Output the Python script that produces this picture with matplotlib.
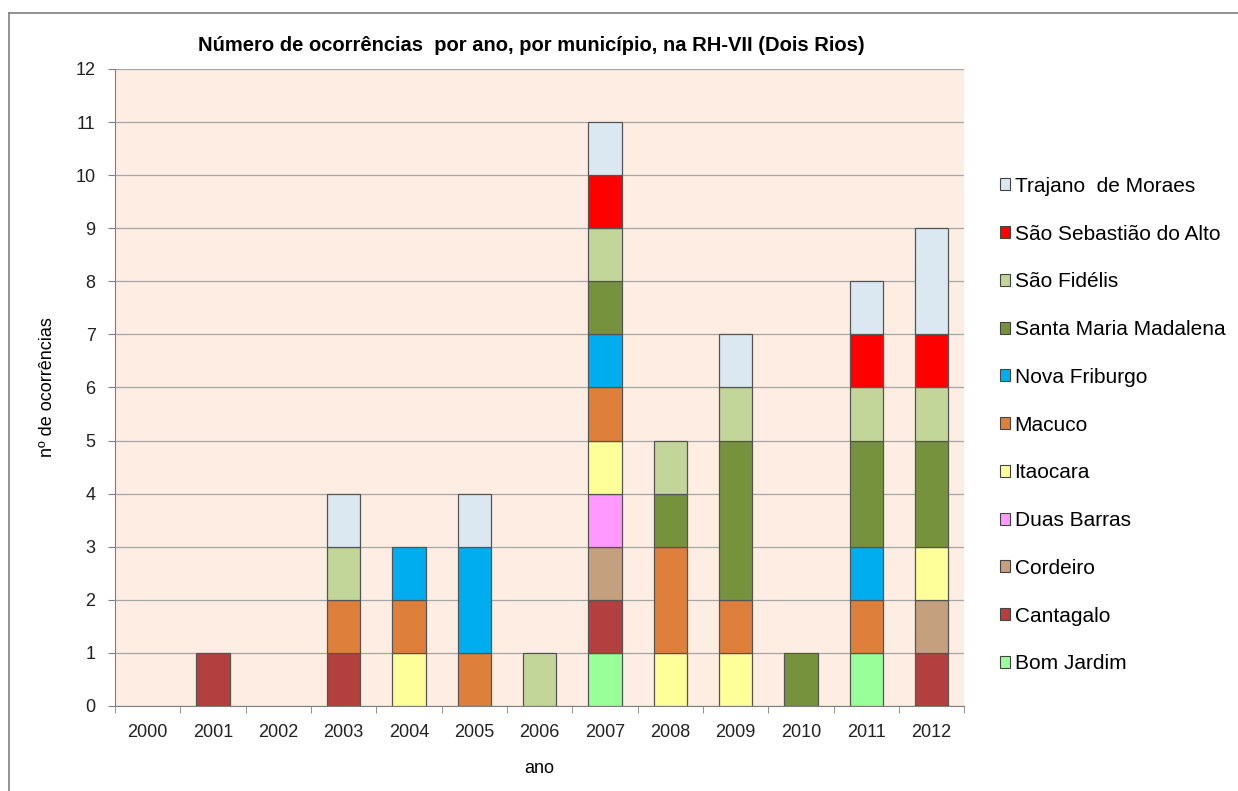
import numpy as np
import matplotlib
matplotlib.use('Agg')
import matplotlib.pyplot as plt
from matplotlib.patches import Patch
from matplotlib.lines import Line2D

plt.rcParams['font.family'] = ['Liberation Sans', 'DejaVu Sans']

anos = ['2000', '2001', '2002', '2003', '2004', '2005', '2006',
        '2007', '2008', '2009', '2010', '2011', '2012']

# stacking order, bottom to top
municipios = ['Bom Jardim', 'Cantagalo', 'Cordeiro', 'Duas Barras', 'Itaocara',
              'Macuco', 'Nova Friburgo', 'Santa Maria Madalena', 'São Fidélis',
              'São Sebastião do Alto', 'Trajano  de Moraes']

bom_jardim   = [0, 0, 0, 0, 0, 0, 0, 1, 0, 0, 0, 1, 0]
cantagalo    = [0, 1, 0, 1, 0, 0, 0, 1, 0, 0, 0, 0, 1]
cordeiro     = [0, 0, 0, 0, 0, 0, 0, 1, 0, 0, 0, 0, 1]
duas_barras  = [0, 0, 0, 0, 0, 0, 0, 1, 0, 0, 0, 0, 0]
itaocara     = [0, 0, 0, 0, 1, 0, 0, 1, 1, 1, 0, 0, 1]
macuco       = [0, 0, 0, 1, 1, 1, 0, 1, 2, 1, 0, 1, 0]
nova_friburgo = [0, 0, 0, 0, 1, 2, 0, 1, 0, 0, 0, 1, 0]
santa_maria  = [0, 0, 0, 0, 0, 0, 0, 1, 1, 3, 1, 2, 2]
sao_fidelis  = [0, 0, 0, 1, 0, 0, 1, 1, 1, 1, 0, 1, 1]
sao_sebastiao = [0, 0, 0, 0, 0, 0, 0, 1, 0, 0, 0, 1, 1]
trajano      = [0, 0, 0, 1, 0, 1, 0, 1, 0, 1, 0, 1, 2]

series = [bom_jardim, cantagalo, cordeiro, duas_barras, itaocara, macuco,
          nova_friburgo, santa_maria, sao_fidelis, sao_sebastiao, trajano]

cores = ['#99FF99', '#B3403F', '#C4A07E', '#FF99FF', '#FFFF99', '#DE803C',
         '#00AEEF', '#76923C', '#C2D69A', '#FF0000', '#DBE7F1']

fig = plt.figure(figsize=(12.38, 7.91), dpi=100)
ax = fig.add_axes([0.0929, 0.1075, 0.6860, 0.8053])
ax.set_facecolor('#FDEDE2')

x = np.arange(len(anos))
base = np.zeros(len(anos))
for vals, cor, nome in zip(series, cores, municipios):
    v = np.array(vals, dtype=float)
    m = v > 0
    ax.bar(x[m], v[m], 0.51, bottom=base[m], color=cor, edgecolor='#555555',
           linewidth=0.9, label=nome, zorder=3)
    base += v

ax.set_xlim(-0.5, len(anos) - 0.5)
ax.set_ylim(0, 12)
ax.set_yticks(range(13))
ax.yaxis.grid(True, color='#A6A6A6', linewidth=0.9, zorder=0)
ax.set_axisbelow(True)
ax.set_xticks(x)
ax.set_xticklabels(anos, fontsize=13)
ax.set_xticks(np.arange(-0.5, len(anos)), minor=True)
ax.tick_params(axis='x', which='major', length=0, pad=13, labelcolor='#222222')
ax.tick_params(axis='x', which='minor', length=5, color='#808080')
ax.tick_params(axis='y', length=5, color='#808080', labelsize=13, pad=9,
               labelcolor='#222222')
for s in ['top', 'right']:
    ax.spines[s].set_visible(False)
for s in ['left', 'bottom']:
    ax.spines[s].set_color('#808080')

ax.set_xlabel('ano', fontsize=13, labelpad=14)
ax.set_ylabel('nº de ocorrências', fontsize=13, labelpad=14)
fig.text(0.429, 0.943, 'Número de ocorrências  por ano, por município, na RH-VII (Dois Rios)',
         ha='center', va='center', fontsize=14.5, fontweight='bold')

handles = [Patch(facecolor=c, edgecolor='#444444', linewidth=0.8) for c in cores]
leg = fig.legend(handles[::-1], municipios[::-1], loc='upper left',
                 bbox_to_anchor=(0.801, 0.787), frameon=False, fontsize=15,
                 handlelength=0.5, handleheight=0.5, handletextpad=0.2,
                 labelspacing=1.38, borderaxespad=0)

# outer chart border
fig.add_artist(Line2D([0.0073, 0.0073], [0.0, 0.9836], color='#808080', lw=1.2))
fig.add_artist(Line2D([0.0073, 1.0], [0.9836, 0.9836], color='#808080', lw=1.2))

fig.savefig('out.png', dpi=100)
